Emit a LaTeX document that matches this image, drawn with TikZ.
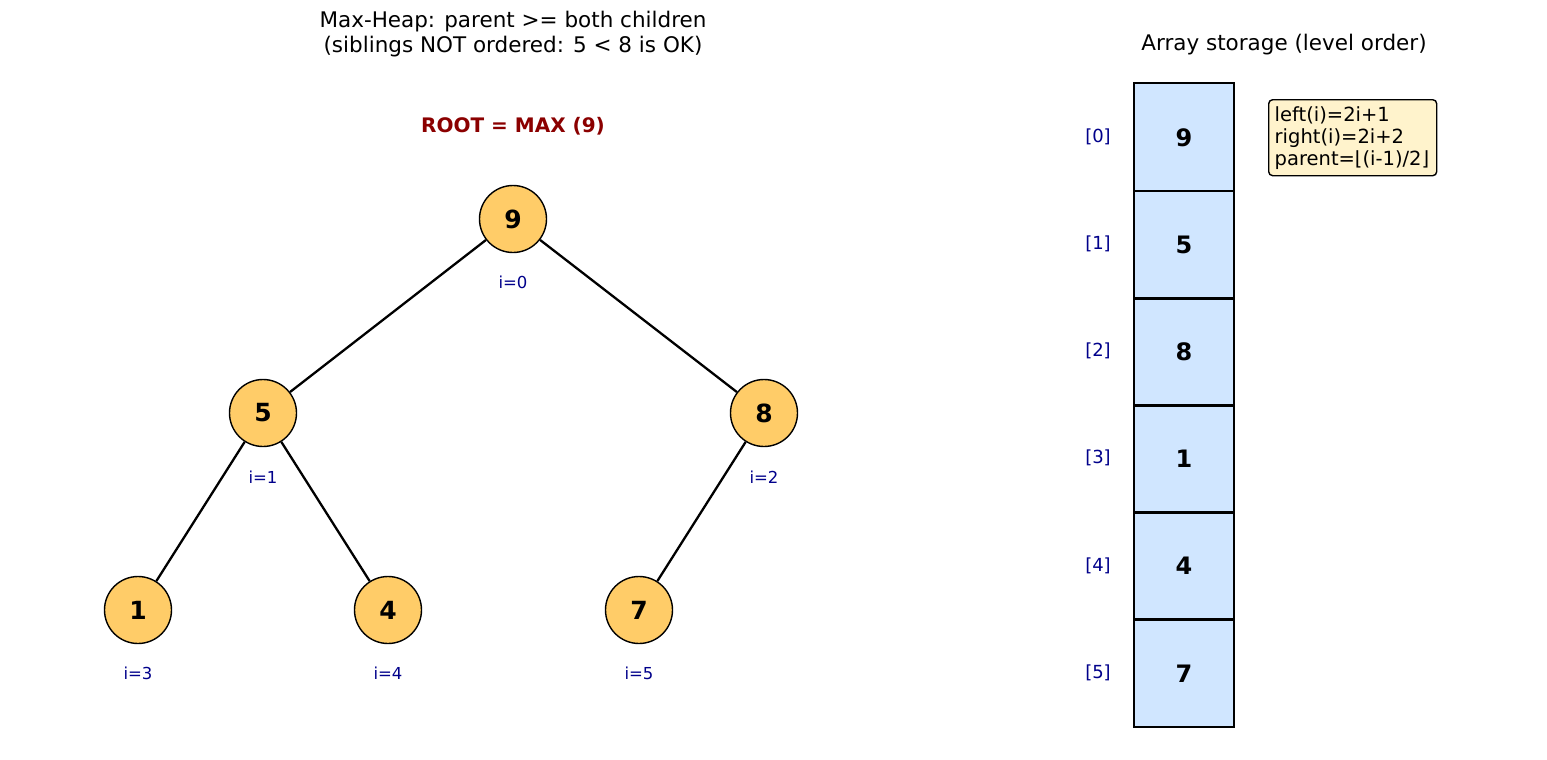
\documentclass[tikz,border=0pt]{standalone}
\usepackage{fontspec}
\setmainfont{DejaVu Sans}
\definecolor{nodefill}{RGB}{255,204,104}
\definecolor{cellfill}{RGB}{208,230,255}
\definecolor{boxfill}{RGB}{255,243,204}
\definecolor{idxcol}{RGB}{0,0,139}
\definecolor{rootred}{RGB}{139,0,0}
\begin{document}
\begin{tikzpicture}[x=1pt,y=-1pt,
  heapnode/.style={circle,draw=black,line width=1.4pt,fill=nodefill,minimum size=67pt,inner sep=0pt,font=\fontsize{25}{29}\selectfont\bfseries},
  idx/.style={text=idxcol,font=\fontsize{16.5}{19}\selectfont},
  aidx/.style={text=idxcol,font=\fontsize{18}{21}\selectfont},
  cell/.style={draw=black,line width=1.4pt,fill=cellfill,minimum width=100pt,minimum height=107.2pt,inner sep=0pt,anchor=north,font=\fontsize{24}{28}\selectfont\bfseries},
  edge/.style={line width=2.3pt,black},
  titletext/.style={font=\fontsize{21.5}{24.5}\selectfont,align=center}
]
\fill[white] (0,0) rectangle (1547,760);
% titles
\node[titletext] (title) at (513,34) {Max-Heap: parent >= both children\\(siblings NOT ordered: 5 < 8 is OK)};
\node[font=\fontsize{20}{24}\selectfont\bfseries,text=rootred] (root) at (513,126) {ROOT = MAX (9)};
\node[titletext] (atitle) at (1284,45) {Array storage (level order)};
% heap nodes
\node[heapnode] (n0) at (513,219) {9};
\node[heapnode] (n1) at (263,413) {5};
\node[heapnode] (n2) at (764,413) {8};
\node[heapnode] (n3) at (138,610) {1};
\node[heapnode] (n4) at (388,610) {4};
\node[heapnode] (n5) at (639,610) {7};
\draw[edge] (n0) -- (n1);
\draw[edge] (n0) -- (n2);
\draw[edge] (n1) -- (n3);
\draw[edge] (n1) -- (n4);
\draw[edge] (n2) -- (n5);
\node[idx] (i0) at (513,282) {i=0};
\node[idx] (i1) at (263,477) {i=1};
\node[idx] (i2) at (764,477) {i=2};
\node[idx] (i3) at (138,673) {i=3};
\node[idx] (i4) at (388,673) {i=4};
\node[idx] (i5) at (639,673) {i=5};
% array
\node[cell] (c0) at (1184,83.0) {9};
\node[cell] (c1) at (1184,190.2) {5};
\node[cell] (c2) at (1184,297.4) {8};
\node[cell] (c3) at (1184,404.6) {1};
\node[cell] (c4) at (1184,511.8) {4};
\node[cell] (c5) at (1184,619.0) {7};
\foreach \c in {c0,c1,c2,c3,c4,c5}
  \draw[line width=1.4pt] (\c.north west) rectangle (\c.south east);
\node[aidx] (a0) at (1098,136.6) {[0]};
\node[aidx] (a1) at (1098,243.8) {[1]};
\node[aidx] (a2) at (1098,351.0) {[2]};
\node[aidx] (a3) at (1098,458.2) {[3]};
\node[aidx] (a4) at (1098,565.4) {[4]};
\node[aidx] (a5) at (1098,672.6) {[5]};
% info box
\node[draw=black,line width=1.4pt,fill=boxfill,rounded corners=4pt,align=left,anchor=north west,inner xsep=6pt,inner ysep=5pt,text width=156pt,minimum height=76pt,font=\fontsize{19.5}{22}\selectfont] (info) at (1268,99) {left(i)=2i+1\\right(i)=2i+2\\parent=⌊(i-1)/2⌋};
\end{tikzpicture}
\end{document}
